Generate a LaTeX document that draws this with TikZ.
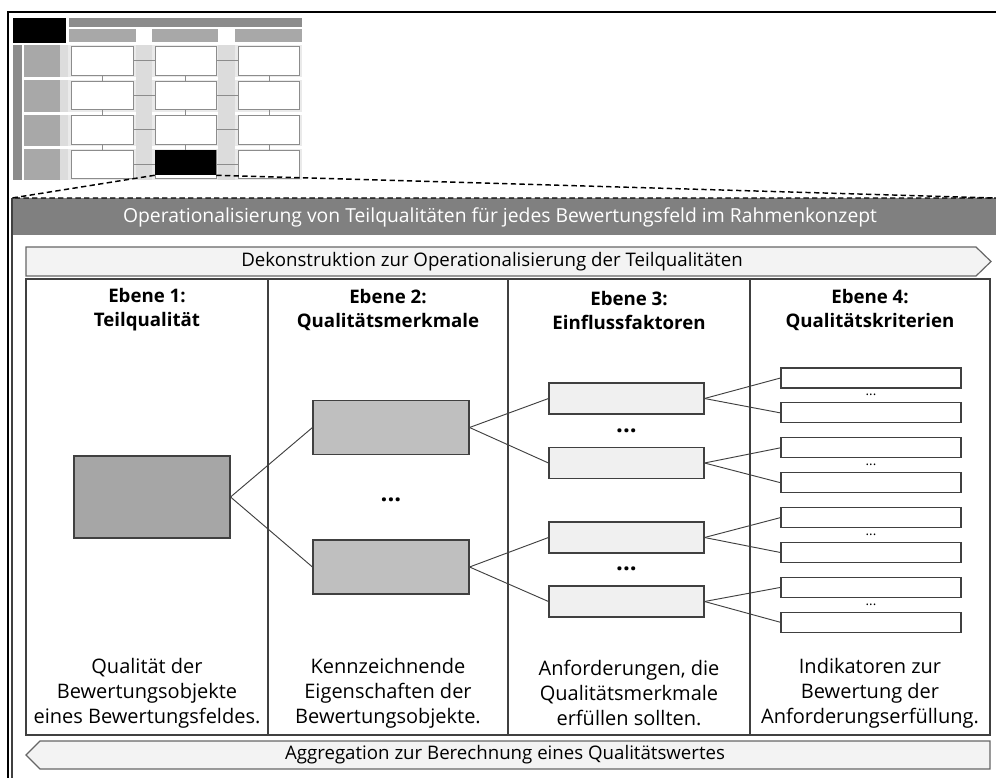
\documentclass[tikz,border=0pt]{standalone}
\usepackage{fontspec}
\setmainfont{Open Sans}
\usetikzlibrary{positioning}
\definecolor{boxline}{HTML}{404040}
\definecolor{greyA}{HTML}{A6A6A6}
\definecolor{greyB}{HTML}{BFBFBF}
\definecolor{greyC}{HTML}{F0F0F0}
\definecolor{titlebar}{HTML}{808080}
\definecolor{gridDark}{HTML}{8C8C8C}
\definecolor{gridMid}{HTML}{A8A8A8}
\definecolor{gridLight}{HTML}{DCDCDC}
\begin{document}
\begin{tikzpicture}[x=0.75pt,y=-0.75pt,
    lvlbox/.style={draw=boxline,line width=0.8pt,inner sep=0pt},
    lvlone/.style={lvlbox,fill=greyA,minimum width=117pt,minimum height=61.5pt},
    lvltwo/.style={lvlbox,fill=greyB,minimum width=117pt,minimum height=40.5pt},
    lvlthree/.style={lvlbox,fill=greyC,minimum width=116.25pt,minimum height=23.25pt},
    lvlfour/.style={lvlbox,fill=white,minimum width=135pt,minimum height=15pt},
    head/.style={font=\bfseries\fontsize{14}{18}\selectfont,align=center},
    desc/.style={font=\fontsize{15}{18.75}\selectfont,align=center},
    dots/.style={font=\bfseries\fontsize{18}{18}\selectfont,inner sep=0pt},
    smalldots/.style={font=\fontsize{10}{10}\selectfont,inner sep=0pt},
    link/.style={draw=boxline,line width=0.7pt},
    zoomline/.style={line width=1.1pt,dash pattern=on 4pt off 2.5pt},
    bandarrow/.style={draw=boxline!80,fill=greyC!80,line width=0.9pt}]
  \useasboundingbox (0,0) rectangle (996,778);

  % thumbnail of the framework
  \fill[black] (13,18) rectangle (66,43);
  \fill[gridDark] (69,18) rectangle (302,27);
  \foreach \xa/\xb in {69/136,152/218,235/302}
    \fill[gridMid] (\xa,29) rectangle (\xb,42);
  \fill[gridDark] (13,45) rectangle (22,180);
  \fill[gridLight] (136,45) rectangle (152,180);
  \fill[gridLight] (218,45) rectangle (235,180);
  \foreach \ya/\yb in {45/77,80/112,115/146,149/180} {
    \fill[gridMid] (24,\ya) rectangle (60,\yb);
    \fill[gridLight] (60,\ya) rectangle (68,\yb);
    \foreach \xa/\xb in {68/136,152/218,235/302}
      \fill[gridLight!60] (\xa,\ya) rectangle (\xb,\yb);
  }
  \foreach \ya/\yb in {46/75,81/109,115/144,150/178} {
    \foreach \xa/\xb in {71/133,155/216,238/299}
      \draw[fill=white,draw=gridDark,line width=0.6pt] (\xa,\ya) rectangle (\xb,\yb);
    \draw[gridDark,line width=0.6pt] (133,{(\ya+\yb)/2}) -- (155,{(\ya+\yb)/2});
    \draw[gridDark,line width=0.6pt] (216,{(\ya+\yb)/2}) -- (238,{(\ya+\yb)/2});
  }
  \foreach \ya/\yb in {75/81,109/115,144/150}
    \foreach \xm in {102,185,269}
      \draw[gridDark,line width=0.6pt] (\xm,\ya) -- (\xm,\yb);
  \node[fill=black,inner sep=0pt,minimum width=45.75pt,minimum height=18.75pt] (zoomsrc) at (185.5,162.5) {};

  % frame and zoom lines
  \draw[black,line width=1.5pt] (996,12) -- (8,12) -- (8,778);
  \coordinate (panel_nw) at (12,198);
  \coordinate (panel_ne) at (996,198);
  \coordinate (panel_sw) at (12,778);
  \draw[boxline,line width=0.8pt] (panel_nw) -- (panel_sw);
  \fill[titlebar] (13,198) rectangle (996,235);
  \draw[zoomline] (zoomsrc.south west) -- (panel_nw) -- (panel_ne);
  \draw[zoomline] (zoomsrc.south east) -- (panel_ne);
  \node[text=white,font=\fontsize{14.5}{17}\selectfont] (title) at (500,217)
    {Operationalisierung von Teilqualitäten für jedes Bewertungsfeld im Rahmenkonzept};

  % top and bottom band arrows
  \draw[bandarrow] (26,247) -- (976,247) -- (991,261.5) -- (976,276) -- (26,276) -- cycle;
  \node[font=\fontsize{14}{17}\selectfont] (dekon) at (492,261.5)
    {Dekonstruktion zur Operationalisierung der Teilqualitäten};
  \draw[bandarrow] (26,755) -- (40,741) -- (990,741) -- (990,769) -- (40,769) -- cycle;
  \node[font=\fontsize{14}{17}\selectfont] (aggr) at (505,755)
    {Aggregation zur Berechnung eines Qualitätswertes};

  % table of the four levels
  \draw[boxline,line width=1.1pt] (26,279) rectangle (990,735);
  \foreach \xd in {268,508,750}
    \draw[boxline,line width=0.8pt] (\xd,279) -- (\xd,735);

  \node[head] (h_1) at (147,310) {Ebene 1:\\Teilqualität};
  \node[head] (h_2) at (388,310) {Ebene 2:\\Qualitätsmerkmale};
  \node[head] (h_3) at (629,310) {Ebene 3:\\Einflussfaktoren};
  \node[head] (h_4) at (870,310) {Ebene 4:\\Qualitätskriterien};

  \node[desc] (d_1) at (147,693) {Qualität der\\Bewertungsobjekte\\eines Bewertungsfeldes.};
  \node[desc] (d_2) at (388,693) {Kennzeichnende\\Eigenschaften der\\Bewertungsobjekte.};
  \node[desc] (d_3) at (629,693) {Anforderungen, die\\Qualitätsmerkmale\\erfüllen sollten.};
  \node[desc] (d_4) at (870,693) {Indikatoren zur\\Bewertung der\\Anforderungserfüllung.};

  % boxes
  \node[lvlone] (q) at (152,497) {};
  \node[lvltwo] (m_1) at (391,427.5) {};
  \node[lvltwo] (m_2) at (391,567) {};
  \node[lvlthree] (e_1) at (626.5,398.5) {};
  \node[lvlthree] (e_2) at (626.5,463) {};
  \node[lvlthree] (e_3) at (626.5,537.5) {};
  \node[lvlthree] (e_4) at (626.5,601.5) {};
  \foreach \i in {1,...,8}
    \node[lvlfour] (k_\i) at (871,{378+34.9*(\i-1)}) {};

  \node[dots] (dots_m) at (391,500) {...};
  \node[dots] (dots_e1) at (626.5,431) {...};
  \node[dots] (dots_e2) at (626.5,569) {...};
  \node[smalldots] (dots_k1) at (871,395) {...};
  \node[smalldots] (dots_k2) at (871,465) {...};
  \node[smalldots] (dots_k3) at (871,535) {...};
  \node[smalldots] (dots_k4) at (871,605) {...};

  % links
  \path[link] (q.east) -- (m_1.west);
  \path[link] (q.east) -- (m_2.west);
  \path[link] (m_1.east) -- (e_1.west);
  \path[link] (m_1.east) -- (e_2.west);
  \path[link] (m_2.east) -- (e_3.west);
  \path[link] (m_2.east) -- (e_4.west);
  \path[link] (e_1.east) -- (k_1.west);
  \path[link] (e_1.east) -- (k_2.west);
  \path[link] (e_2.east) -- (k_3.west);
  \path[link] (e_2.east) -- (k_4.west);
  \path[link] (e_3.east) -- (k_5.west);
  \path[link] (e_3.east) -- (k_6.west);
  \path[link] (e_4.east) -- (k_7.west);
  \path[link] (e_4.east) -- (k_8.west);
\end{tikzpicture}
\end{document}
